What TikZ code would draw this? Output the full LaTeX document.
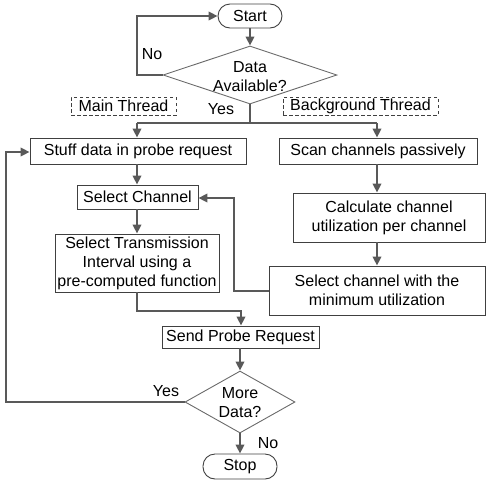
\documentclass[tikz,border=0pt]{standalone}
\usepackage{fontspec}
\setmainfont{Liberation Sans}
\usetikzlibrary{shapes.geometric,arrows.meta}
\definecolor{lc}{HTML}{595959}
\definecolor{bc}{HTML}{404040}
\definecolor{dc}{HTML}{6A6A6A}
\tikzset{
  every node/.style={font=\fontsize{16}{19}\selectfont, inner sep=0pt, align=center},
  box/.style={draw=bc, line width=0.9pt, rectangle, anchor=center},
  term/.style={box, rounded corners=12pt},
  dia/.style={draw=dc, line width=0.9pt, diamond, anchor=center},
  thr/.style={draw=bc, dashed, line width=0.7pt, dash pattern=on 3.5pt off 2.5pt, rectangle},
  conn/.style={draw=lc, line width=2pt, -{Triangle[length=9pt,width=8.5pt]}},
  line/.style={draw=lc, line width=2pt},
}
\begin{document}
\begin{tikzpicture}[x=1pt,y=-1pt]
\useasboundingbox (0,0) rectangle (492,485);
\node[term, minimum width=64pt, minimum height=24pt] (start) at (250,16) {Start};
\node[dia, minimum width=174pt, minimum height=58pt] (d1) at (250,75) {};
\node (d1t) at (250,77) {Data\\Available?};
\node[thr, minimum width=105pt, minimum height=18pt] (mt) at (123.5,106) {Main Thread};
\node[thr, minimum width=155pt, minimum height=18pt] (bt) at (360.5,106) {Background Thread};
\node[box, minimum width=216pt, minimum height=26pt] (stuff) at (138,151) {Stuff data in probe request};
\node[box, minimum width=198pt, minimum height=26pt] (scan) at (378,151) {Scan channels passively};
\node[box, minimum width=121pt, minimum height=24pt] (selch) at (137.5,197) {Select Channel};
\node[box, minimum width=192pt, minimum height=49pt] (calc) at (389,217.5) {Calculate channel\\utilization per channel};
\node[box, minimum width=164pt, minimum height=58pt] (trans) at (137,263) {Select Transmission\\Interval using a\\pre-computed function};
\node[box, minimum width=216pt, minimum height=49pt] (selmin) at (377,290.5) {Select channel with the\\minimum utilization};
\node[box, minimum width=157pt, minimum height=22pt] (send) at (240.5,337) {Send Probe Request};
\node[dia, minimum width=110pt, minimum height=62pt] (d2) at (240,402) {};
\node (d2t) at (240,403) {More\\Data?};
\node[term, minimum width=74pt, minimum height=25pt] (stop) at (240,466.5) {Stop};
% labels
\node (lno1) at (152,54) {No};
\node (lyes1) at (221,109) {Yes};
\node (lyes2) at (166,391) {Yes};
\node (lno2) at (268,443) {No};
% junction coordinates
\coordinate (j) at (250,123);
\coordinate (jl) at (137,123);
\coordinate (jr) at (377,123);
% connectors
\draw[conn] (start.south) -- (d1.north);
\draw[conn] (d1.west) -- (137,75) -- (137,16) -- (start.west);
\draw[line] (d1.south) -- (j);
\draw[line] (jl) -- (jr);
\draw[conn] (jl) -- (jl |- stuff.north);
\draw[conn] (jr) -- (jr |- scan.north);
\draw[conn] (stuff.south -| jl) -- (selch.north -| jl);
\draw[conn] (scan.south -| jr) -- (calc.north -| jr);
\draw[conn] (calc.south -| jr) -- (selmin.north -| jr);
\draw[conn] (selmin.west) -- (234,290.5) -- (234,198) -- (selch.east |- 0,198);
\draw[conn] (selch.south -| jl) -- (trans.north -| jl);
\draw[conn] (trans.south -| jl) -- (137,311) -- (241,311) -- (send.north -| 241,0);
\draw[conn] (send.south -| d2.north) -- (d2.north);
\draw[conn] (d2.west) -- (6,402) -- (6,152) -- (stuff.west |- 0,152);
\draw[conn] (d2.south) -- (stop.north);
\end{tikzpicture}
\end{document}
